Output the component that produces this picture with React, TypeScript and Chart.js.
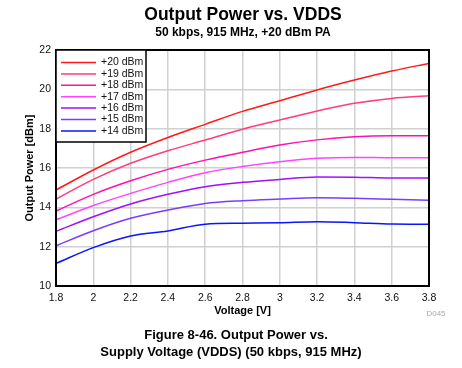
import React, { useEffect, useRef } from "react";
import { Chart, registerables } from "chart.js";

Chart.register(...registerables);

const voltages = [1.8, 2.0, 2.2, 2.4, 2.6, 2.8, 3.0, 3.2, 3.4, 3.6, 3.8];
const p20 = [14.88, 15.9, 16.8, 17.55, 18.22, 18.88, 19.42, 19.97, 20.47, 20.93, 21.32];
const p19 = [14.42, 15.42, 16.24, 16.88, 17.42, 17.97, 18.44, 18.9, 19.29, 19.54, 19.67];
const p18 = [13.81, 14.66, 15.35, 15.93, 16.4, 16.8, 17.17, 17.43, 17.59, 17.64, 17.64];
const p17 = [13.36, 14.09, 14.71, 15.27, 15.76, 16.08, 16.32, 16.49, 16.54, 16.52, 16.52];
const p16 = [12.78, 13.52, 14.17, 14.66, 15.05, 15.27, 15.42, 15.54, 15.53, 15.49, 15.49];
const p15 = [12.05, 12.81, 13.44, 13.86, 14.2, 14.34, 14.42, 14.49, 14.46, 14.41, 14.36];
const p14 = [11.15, 11.95, 12.54, 12.8, 13.14, 13.19, 13.22, 13.27, 13.22, 13.15, 13.14];

const seriesLabels = ["+20 dBm", "+19 dBm", "+18 dBm", "+17 dBm", "+16 dBm", "+15 dBm", "+14 dBm"];
const seriesValues = [p20, p19, p18, p17, p16, p15, p14];
const seriesColors = ["#ff1a1a", "#ff3d7a", "#ff10b0", "#ff45ff", "#a010ff", "#7a3cff", "#0a14ff"];

const titleText = "Output Power vs. VDDS";
const subtitleText = "50 kbps, 915 MHz, +20 dBm PA";
const captionLines = ["Figure 8-46. Output Power vs.", "Supply Voltage (VDDS) (50 kbps, 915 MHz)"];
const FONT = "'Liberation Sans', Arial, sans-serif";

const decorPlugin = {
  id: "decor",
  afterDatasetsDraw(chart: any) {
    const { ctx, chartArea } = chart;
    const { left, top, right, bottom } = chartArea;
    ctx.save();
    ctx.strokeStyle = "#000";
    ctx.lineWidth = 2;
    ctx.strokeRect(left, top, right - left, bottom - top);

    const lx = left, ly = top, lw = 90, lh = 92;
    ctx.fillStyle = "#fff";
    ctx.fillRect(lx, ly, lw, lh);
    ctx.lineWidth = 1.5;
    ctx.strokeRect(lx, ly, lw, lh);
    ctx.font = `10.5px ${FONT}`;
    ctx.textBaseline = "middle";
    ctx.textAlign = "left";
    chart.data.datasets.forEach((ds: any, i: number) => {
      const y = ly + 12.5 + i * 11.4;
      ctx.strokeStyle = ds.borderColor;
      ctx.lineWidth = 1.5;
      ctx.beginPath();
      ctx.moveTo(lx + 5, y);
      ctx.lineTo(lx + 40, y);
      ctx.stroke();
      ctx.fillStyle = "#111";
      ctx.fillText(ds.label, lx + 45, y);
    });
    ctx.restore();
  },
  afterDraw(chart: any) {
    const { ctx } = chart;
    ctx.save();
    ctx.fillStyle = "#000";
    ctx.textAlign = "center";
    ctx.textBaseline = "middle";
    ctx.font = `bold 17.5px ${FONT}`;
    ctx.fillText(titleText, 243, 15);
    ctx.font = `bold 12px ${FONT}`;
    ctx.fillText(subtitleText, 243, 33);
    ctx.font = `bold 13px ${FONT}`;
    ctx.fillText(captionLines[0], 236, 335);
    ctx.fillText(captionLines[1], 231, 352);
    ctx.font = `8px ${FONT}`;
    ctx.fillStyle = "#aaa";
    ctx.fillText("D045", 436, 314);
    ctx.restore();
  },
};

export default function App() {
  const ref = useRef<HTMLCanvasElement>(null);
  useEffect(() => {
    document.body.style.margin = "0";
    const canvas = ref.current!;
    const chart = new Chart(canvas, {
      type: "line",
      data: {
        datasets: seriesLabels.map((label, i) => ({
          label,
          data: voltages.map((v, j) => ({ x: v, y: seriesValues[i][j] })),
          borderColor: seriesColors[i],
          backgroundColor: seriesColors[i],
          borderWidth: 1.5,
          pointRadius: 0,
          cubicInterpolationMode: "monotone" as const,
          fill: false,
        })),
      },
      options: {
        animation: false,
        responsive: false,
        maintainAspectRatio: false,
        layout: { padding: { top: 50, left: 0, right: 33, bottom: 50 } },
        plugins: {
          legend: { display: false },
          title: { display: false },
          tooltip: { enabled: false },
        },
        scales: {
          x: {
            type: "linear",
            min: 1.8,
            max: 3.8,
            ticks: {
              stepSize: 0.2,
              padding: 6,
              color: "#111",
              font: { family: FONT, size: 10.5 },
              callback: (v: any) => String(Number(Number(v).toFixed(1))),
            },
            grid: { color: "#d0d0d0", lineWidth: 1.5, drawTicks: false },
            border: { display: false },
            title: {
              display: true,
              text: "Voltage [V]",
              color: "#000",
              font: { family: FONT, size: 11, weight: "bold" },
              padding: { top: 0, bottom: 0 },
            },
            afterFit: (s: any) => { s.height = 32; },
          },
          y: {
            min: 10,
            max: 22,
            ticks: {
              stepSize: 2,
              padding: 5,
              color: "#111",
              font: { family: FONT, size: 10.5 },
            },
            grid: { color: "#d0d0d0", lineWidth: 1.5, drawTicks: false },
            border: { display: false },
            title: {
              display: true,
              text: "Output Power [dBm]",
              color: "#000",
              font: { family: FONT, size: 11, weight: "bold" },
              padding: { top: 23.4, bottom: 0 },
            },
            afterFit: (s: any) => { s.width = 56; },
          },
        },
      },
      plugins: [decorPlugin],
    });
    return () => chart.destroy();
  }, []);
  return (
    <div style={{ position: "absolute", left: 0, top: 0, width: 462, height: 368, background: "#fff" }}>
      <canvas ref={ref} width={462} height={368} style={{ width: 462, height: 368 }} />
    </div>
  );
}
